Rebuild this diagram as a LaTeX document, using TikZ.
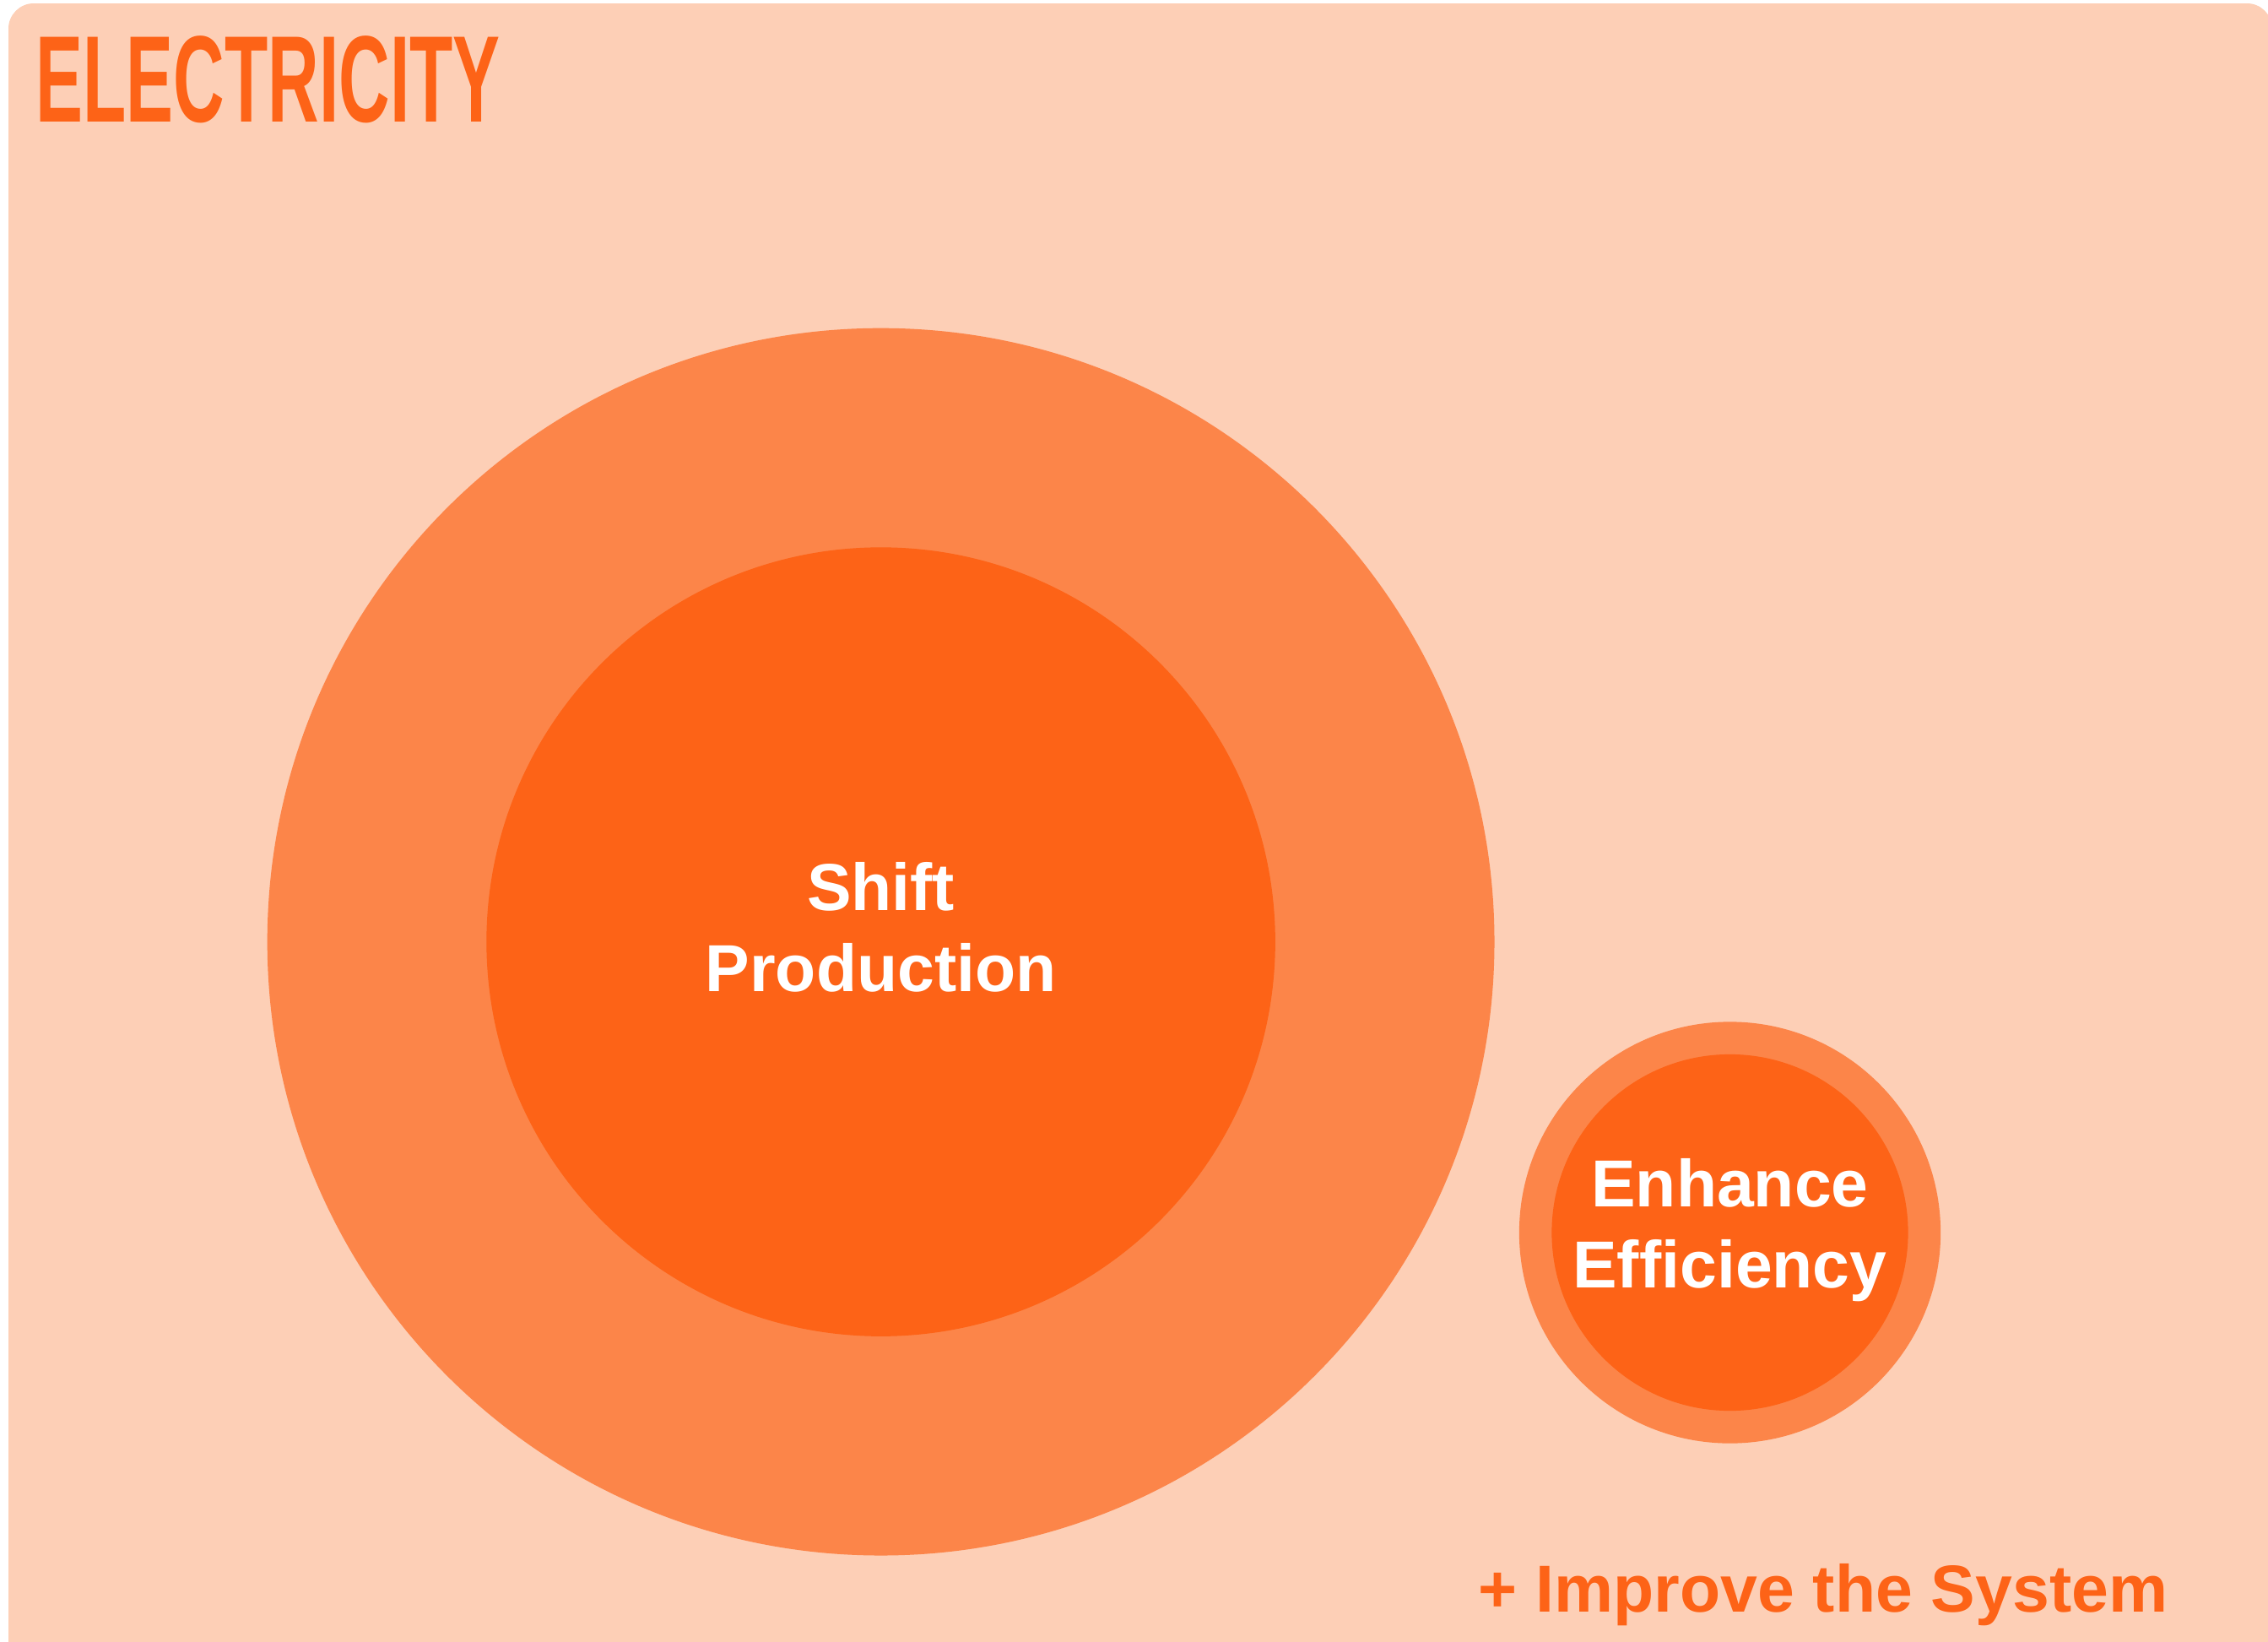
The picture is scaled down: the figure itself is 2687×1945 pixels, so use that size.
\documentclass[tikz,border=0pt]{standalone}
\usepackage{fontspec}
\setmainfont{Liberation Sans}
\definecolor{peach}{RGB}{253,207,182}
\definecolor{ringorange}{RGB}{252,133,73}
\definecolor{coreorange}{RGB}{253,99,23}
\begin{document}
\begin{tikzpicture}[x=0.01cm, y=-0.01cm,
    ring/.style={circle, fill=ringorange, inner sep=0pt},
    core/.style={circle, fill=coreorange, inner sep=0pt},
    label/.style={text=white, align=center, font=\fontsize{22.4}{27.3}\selectfont\bfseries}]
    \useasboundingbox (0,0) rectangle (2687,1945);
    % Background panel
    \fill[white] (0,0) rectangle (2687,1945);
    \fill[peach, rounded corners=0.3cm] (10,4) rectangle (2692,2000);

    % Title
    \node[anchor=base west, inner sep=0pt, text=coreorange,
        font=\fontsize{41.5}{41.5}\selectfont\bfseries] (title) at (42,144)
        {\scalebox{0.575}[1]{ELECTRICITY}};

    % Shift production
    \node[ring, minimum size=14.53cm] (shiftRing) at (1043.6,1115.6) {};
    \node[core, minimum size=9.34cm] (shiftCore) at (shiftRing.center) {};
    \node[label, anchor=base] (shiftText) at (1043.6,1174) {Shift\\Production};

    % Enhance efficiency
    \node[ring, minimum size=4.99cm] (effRing) at (2049.5,1460) {};
    \node[core, minimum size=4.22cm] (effCore) at (effRing.center) {};
    \node[label, anchor=base] (effText) at (2049.5,1525) {Enhance\\Efficiency};

    % System note
    \node[anchor=base west, inner sep=0pt, text=coreorange,
        font=\fontsize{22.4}{27.3}\selectfont\bfseries] (system) at (1751,1909)
        {+ Improve the System};
\end{tikzpicture}
\end{document}
